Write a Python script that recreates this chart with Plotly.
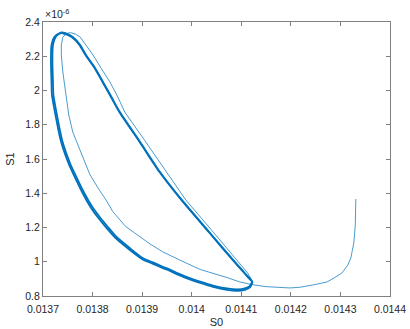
import numpy as np
import plotly.graph_objects as go

# Transient part of the trajectory (S0, S1 in units of 1e-6)
s0_transient = [0.014331, 0.014330, 0.014327, 0.014321, 0.014315, 0.014303, 0.014287, 0.014273,
                0.014244, 0.014218, 0.014198, 0.014172, 0.014148, 0.014121, 0.014097, 0.014071,
                0.014043, 0.014017, 0.013976, 0.013942, 0.013916, 0.013896, 0.013867, 0.013841,
                0.013827, 0.013811, 0.013795, 0.013777, 0.013760, 0.013752, 0.013746, 0.013740,
                0.013737, 0.013737, 0.013740, 0.013748, 0.013755, 0.013765, 0.013775, 0.013787,
                0.013801, 0.013817, 0.013835, 0.013851, 0.013865, 0.013906, 0.013944, 0.013988,
                0.014045, 0.014093, 0.014113, 0.014121]
s1_transient = [1.366, 1.215, 1.110, 1.022, 0.981, 0.934, 0.905, 0.882,
                0.864, 0.851, 0.847, 0.850, 0.855, 0.867, 0.882, 0.908,
                0.931, 0.955, 1.010, 1.057, 1.104, 1.146, 1.205, 1.292,
                1.361, 1.431, 1.507, 1.635, 1.758, 1.857, 1.974, 2.108,
                2.207, 2.266, 2.312, 2.333, 2.338, 2.330, 2.312, 2.266,
                2.207, 2.131, 2.050, 1.962, 1.874, 1.705, 1.547, 1.361,
                1.168, 0.999, 0.934, 0.893]

# Loop just before the trajectory settles
s0_approach = [0.014123, 0.014118, 0.014107, 0.014093, 0.014071, 0.014043, 0.014017, 0.013996,
               0.013976, 0.013956, 0.013942, 0.013922, 0.013902, 0.013874, 0.013846, 0.013828,
               0.013811, 0.013798, 0.013788, 0.013776, 0.013764, 0.013753, 0.013744, 0.013736,
               0.013731, 0.013724, 0.013718, 0.013717, 0.013716, 0.013717, 0.013723, 0.013732,
               0.013740, 0.013757, 0.013773, 0.013786, 0.013804, 0.013820, 0.013836, 0.013854,
               0.013895, 0.013935, 0.013979, 0.014036, 0.014086, 0.014108, 0.014118, 0.014122]
s1_approach = [0.884, 0.852, 0.836, 0.830, 0.836, 0.853, 0.876, 0.897,
               0.920, 0.947, 0.963, 0.988, 1.012, 1.072, 1.140, 1.198,
               1.258, 1.310, 1.358, 1.423, 1.495, 1.564, 1.632, 1.705,
               1.769, 1.874, 1.974, 2.061, 2.166, 2.262, 2.312, 2.332,
               2.334, 2.314, 2.268, 2.206, 2.131, 2.050, 1.968, 1.874,
               1.699, 1.524, 1.361, 1.168, 0.999, 0.928, 0.896, 0.885]

# Limit cycle the trajectory settles onto
s0_cycle = [0.014122, 0.014117, 0.014107, 0.014093, 0.014071, 0.014043, 0.014017, 0.013996,
            0.013976, 0.013956, 0.013942, 0.013922, 0.013902, 0.013875, 0.013848, 0.013831,
            0.013814, 0.013801, 0.013791, 0.013779, 0.013767, 0.013756, 0.013747, 0.013739,
            0.013734, 0.013727, 0.013721, 0.013720, 0.013719, 0.013720, 0.013727, 0.013737,
            0.013744, 0.013760, 0.013775, 0.013787, 0.013805, 0.013821, 0.013837, 0.013855,
            0.013896, 0.013936, 0.013980, 0.014037, 0.014087, 0.014109, 0.014119, 0.014122]
s1_cycle = [0.885, 0.858, 0.844, 0.838, 0.844, 0.861, 0.884, 0.905,
            0.928, 0.955, 0.971, 0.996, 1.020, 1.080, 1.146, 1.203,
            1.263, 1.314, 1.361, 1.425, 1.497, 1.565, 1.633, 1.705,
            1.769, 1.874, 1.974, 2.061, 2.166, 2.264, 2.318, 2.339,
            2.336, 2.312, 2.266, 2.206, 2.131, 2.050, 1.968, 1.874,
            1.699, 1.524, 1.361, 1.168, 0.999, 0.928, 0.896, 0.885]

x_ticks = [0.0137, 0.0138, 0.0139, 0.0140, 0.0141, 0.0142, 0.0143, 0.0144]
x_tick_labels = ["0.0137", "0.0138", "0.0139", "0.014", "0.0141", "0.0142", "0.0143", "0.0144"]
y_ticks = [0.8, 1.0, 1.2, 1.4, 1.6, 1.8, 2.0, 2.2, 2.4]
y_tick_labels = ["0.8", "1", "1.2", "1.4", "1.6", "1.8", "2", "2.2", "2.4"]

scale = 1e-6
blue = "#0072BD"
font_family = "Liberation Sans, Arial, sans-serif"

fig = go.Figure()
fig.add_trace(go.Scatter(x=s0_transient, y=np.array(s1_transient) * scale, mode="lines",
                         line=dict(color=blue, width=1), opacity=0.7,
                         showlegend=False, hoverinfo="skip"))
fig.add_trace(go.Scatter(x=s0_approach, y=np.array(s1_approach) * scale, mode="lines",
                         line=dict(color=blue, width=1.8, shape="spline", smoothing=0.6),
                         showlegend=False, hoverinfo="skip"))
fig.add_trace(go.Scatter(x=s0_cycle, y=np.array(s1_cycle) * scale, mode="lines",
                         line=dict(color=blue, width=1.8, shape="spline", smoothing=0.6),
                         showlegend=False, hoverinfo="skip"))

axis_color = "#808080"
font_color = "#262626"
common = dict(showgrid=False, zeroline=False, showline=True, linecolor=axis_color, linewidth=1,
              mirror="ticks", ticks="inside", ticklen=4, tickcolor=axis_color, tickwidth=1,
              automargin=False,
              tickfont=dict(family=font_family, size=10.5, color=font_color))

fig.update_layout(
    width=410, height=329,
    margin=dict(l=43, r=20, t=22, b=33, autoexpand=False),
    paper_bgcolor="white", plot_bgcolor="white",
    xaxis=dict(range=[0.0137, 0.0144], tickvals=x_ticks, ticktext=x_tick_labels,
               ticklabelstandoff=3,
               title=dict(text="S0", standoff=4, font=dict(family=font_family, size=11, color=font_color)),
               **common),
    yaxis=dict(range=[0.8 * scale, 2.4 * scale], tickvals=[v * scale for v in y_ticks],
               ticktext=y_tick_labels,
               title=dict(text="S1", standoff=8, font=dict(family=font_family, size=11, color=font_color)),
               **common),
    annotations=[dict(text="×10<sup>-6</sup>", xref="paper", yref="paper", x=0, y=1,
                      xanchor="left", yanchor="bottom", showarrow=False,
                      font=dict(family=font_family, size=10.5, color=font_color))],
)

fig.write_html("out.html")
